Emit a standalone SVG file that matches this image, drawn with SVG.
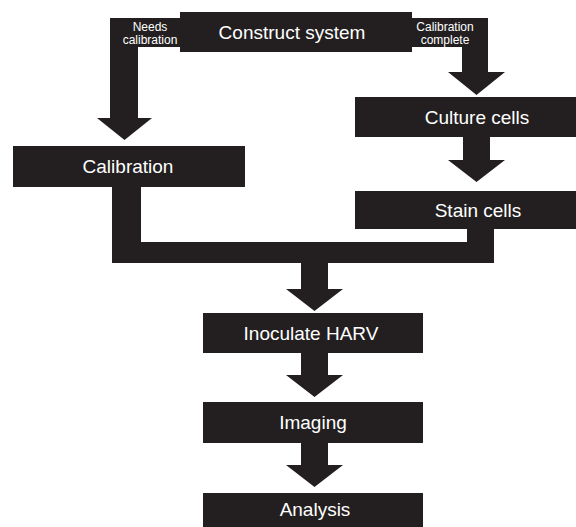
<svg xmlns="http://www.w3.org/2000/svg" width="576" height="527" viewBox="0 0 576 527">
<style>
.box{fill:#231f20}
.con{fill:#231f20}
.t{font-family:"Liberation Sans",Arial,sans-serif;font-size:19px;fill:#ffffff;text-anchor:middle}
.s{font-family:"Liberation Sans",Arial,sans-serif;font-size:12px;fill:#ffffff;text-anchor:middle}
</style>
<rect width="576" height="527" fill="#ffffff"/>
<g id="connectors">
<path class="con" d="M180,18 H110 V118 H97 L124.5,140 L152,118 H138 V47 H180 Z"/>
<path class="con" d="M412,18 H488 V72 H505 L476.5,95 L448,72 H462 V47 H412 Z"/>
<path class="con" d="M463,137 H490 V160 H505 L476.5,182 L448,160 H463 Z"/>
<path class="con" d="M112,187 H141 V242 H467 V229 H494 V263 H328 V289 H343 L314.5,311 L286,289 H301 V263 H112 Z"/>
<path class="con" d="M301,353 H328 V375 H343 L314.5,397 L286,375 H301 Z"/>
<path class="con" d="M301,443 H328 V465 H343 L314.5,487 L286,465 H301 Z"/>
<text class="s" x="150" y="30.5">Needs</text>
<text class="s" x="150" y="43.5">calibration</text>
<text class="s" x="445" y="30.5">Calibration</text>
<text class="s" x="445" y="43.5">complete</text>
</g>
<g id="construct">
<rect class="box" x="180" y="12" width="232" height="40"/>
<text class="t" x="292" y="39">Construct system</text>
</g>
<g id="calibration">
<rect class="box" x="13" y="146" width="232" height="41"/>
<text class="t" x="128" y="173">Calibration</text>
</g>
<g id="culture">
<rect class="box" x="355" y="97" width="221" height="40"/>
<text class="t" x="477" y="124">Culture cells</text>
</g>
<g id="stain">
<rect class="box" x="355" y="191" width="221" height="38"/>
<text class="t" x="478" y="217">Stain cells</text>
</g>
<g id="inoculate">
<rect class="box" x="203" y="313" width="220" height="40"/>
<text class="t" x="311" y="340">Inoculate HARV</text>
</g>
<g id="imaging">
<rect class="box" x="203" y="402" width="220" height="41"/>
<text class="t" x="313" y="429">Imaging</text>
</g>
<g id="analysis">
<rect class="box" x="203" y="493" width="220" height="40"/>
<text class="t" x="315" y="516">Analysis</text>
</g>
</svg>
